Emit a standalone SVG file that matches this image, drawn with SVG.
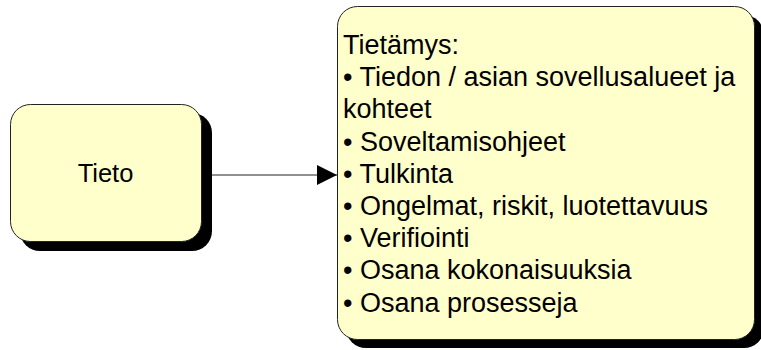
<svg xmlns="http://www.w3.org/2000/svg" width="761" height="350" viewBox="0 0 761 350">
  <style>
    .shadow { fill: #000000; }
    .box { fill: #FFFFCC; stroke: #222222; stroke-width: 1; }
    .label { font-family: "Liberation Sans", Arial, sans-serif; fill: #000000; }
    .connector { stroke: #222222; stroke-width: 1; fill: none; }
  </style>
  <defs>
    <marker id="arrowhead" markerUnits="userSpaceOnUse" markerWidth="20" markerHeight="20" refX="20" refY="10" orient="auto">
      <path d="M0,0 L20,10 L0,20 Z" fill="#000000"/>
    </marker>
  </defs>

  <rect width="761" height="350" fill="#FFFFFF"/>

  <!-- Tieto -->
  <g id="node-tieto">
    <rect class="shadow" x="20" y="113" width="192" height="138" rx="20" ry="20"/>
    <rect class="box" x="10.5" y="104.5" width="191" height="137" rx="20" ry="20"/>
    <text class="label" x="105.5" y="182" font-size="25.5" text-anchor="middle">Tieto</text>
  </g>

  <!-- Tietämys -->
  <g id="node-tietamys">
    <rect class="shadow" x="346" y="15" width="418" height="333" rx="20" ry="20"/>
    <rect class="box" x="337.5" y="6.5" width="417" height="333" rx="20" ry="20"/>
    <g class="label" font-size="27">
      <text x="343" y="54">Tietämys:</text>
      <text x="343" y="86.2">• Tiedon / asian sovellusalueet ja</text>
      <text x="343" y="118.4">kohteet</text>
      <text x="343" y="150.6">• Soveltamisohjeet</text>
      <text x="343" y="182.8">• Tulkinta</text>
      <text x="343" y="215">• Ongelmat, riskit, luotettavuus</text>
      <text x="343" y="247.2">• Verifiointi</text>
      <text x="343" y="279.4">• Osana kokonaisuuksia</text>
      <text x="343" y="311.6">• Osana prosesseja</text>
    </g>
  </g>

  <!-- connectors -->
  <g id="connectors">
    <line class="connector" x1="212" y1="175" x2="337" y2="175" marker-end="url(#arrowhead)"/>
  </g>
</svg>
